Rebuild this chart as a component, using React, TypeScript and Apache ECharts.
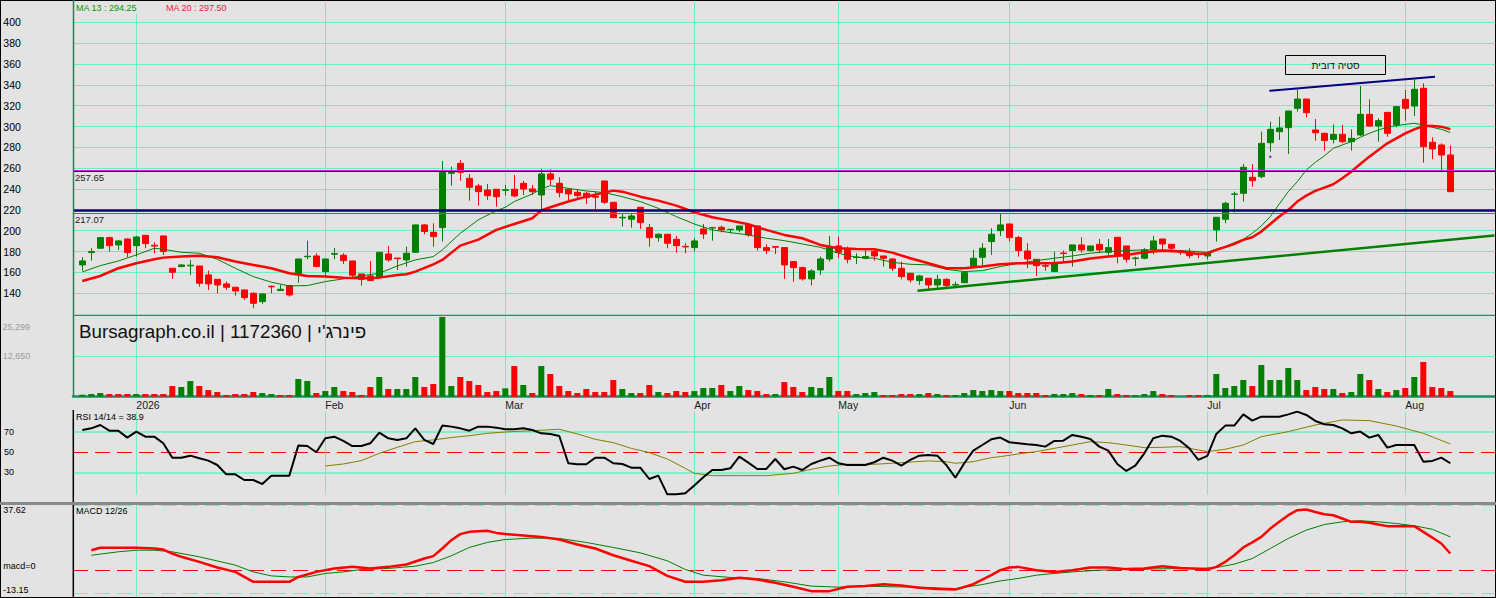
import React, { useEffect, useRef } from "react";
import * as echarts from "echarts";

const FONT = '"Liberation Sans", Arial, sans-serif';
const BG = "#e3e3e3";
const GRID_COLOR = "#66f2c4";
const UP = "#008000";
const DOWN = "#ff0000";

// x domain in trading-day index units (first candle = 0)
const X_MIN = -1.0333;
const X_MAX = 156.9667;

const monthIndex = [6, 27, 47, 68, 84, 103, 125, 147];
const monthLabels = ["2026", "Feb", "Mar", "Apr", "May", "Jun", "Jul", "Aug"];
const priceTicks = [140, 160, 180, 200, 220, 240, 260, 280, 300, 320, 340, 360, 380, 400];
const rsiTicks = [30, 50, 70];
const volumeMax = 25299;
const volumeTickLabels = ["25,299", "12,650"];
const macdTop = 37.62;
const macdBottom = -13.15;
const macdTickLabels = ["37.62", "macd=0", "-13.15"];

const ma13Label = "MA 13 : 294.25";
const ma20Label = "MA 20 : 297.50";
const rsiLabel = "RSI 14/14 = 38.9";
const macdLabel = "MACD 12/26";
const watermark = "Bursagraph.co.il | 1172360 | פינרג'י";
const noteText = "סטיה דובית";

const levelHigh = 257.65;
const levelHighUser = 256.7;
const levelLow = 217.07;
const levelLowUser = 220;

// [open, close, low, high]
const candles = [
  [167.2, 171.0, 161.7, 174.5], [179.0, 180.0, 171.3, 183.2], [183.2, 193.4, 182.6, 194.0], [193.4, 185.7, 180.0, 194.4],
  [186.4, 190.2, 181.6, 191.2], [192.1, 179.0, 174.5, 192.8], [185.7, 194.0, 175.2, 195.0], [195.6, 187.7, 183.2, 195.6],
  [186.0, 185.3, 178.4, 188.9], [195.0, 180.0, 176.8, 195.0], [164.0, 160.1, 153.8, 164.0], [165.6, 167.2, 165.0, 167.5],
  [166.3, 166.9, 157.6, 172.0], [166.2, 149.6, 146.4, 166.2], [157.6, 149.0, 143.2, 161.7], [153.4, 148.0, 140.0, 153.4],
  [149.0, 145.8, 143.2, 151.2], [145.8, 142.2, 137.8, 145.8], [143.2, 135.8, 133.6, 143.2], [140.0, 130.4, 125.6, 141.0],
  [132.0, 139.4, 129.8, 140.0], [146.7, 146.2, 140.0, 147.4], [142.6, 143.8, 142.6, 148.0], [147.4, 138.4, 136.8, 148.0],
  [158.5, 172.9, 150.2, 172.9], [175.0, 175.5, 172.6, 190.5], [175.8, 165.6, 165.6, 178.4], [160.8, 172.9, 156.0, 173.0],
  [177.5, 178.0, 172.6, 183.5], [176.5, 171.3, 168.1, 178.4], [171.0, 157.3, 155.4, 171.0], [158.5, 153.4, 147.4, 158.5],
  [156.6, 152.2, 152.2, 171.0], [155.4, 179.3, 154.4, 179.3], [177.7, 172.0, 170.4, 185.4], [173.8, 173.2, 162.4, 174.0],
  [172.0, 178.4, 165.6, 184.8], [179.3, 205.6, 179.3, 205.6], [205.6, 199.2, 196.6, 206.5], [198.5, 194.4, 184.8, 207.2],
  [203.0, 257.7, 189.6, 267.0], [255.1, 256.7, 243.3, 261.5], [264.7, 256.1, 248.0, 267.9], [250.3, 241.7, 228.9, 254.5],
  [243.0, 237.5, 224.1, 244.9], [239.1, 233.7, 229.5, 244.9], [239.8, 232.7, 223.0, 239.8], [238.8, 239.4, 233.7, 243.9],
  [239.8, 233.4, 232.1, 253.5], [245.5, 240.1, 234.3, 247.8], [240.1, 237.5, 234.3, 243.9], [234.3, 254.5, 220.6, 259.3],
  [254.5, 249.4, 243.9, 259.0], [245.5, 236.6, 232.1, 251.3], [239.8, 235.3, 229.5, 239.8], [236.9, 233.7, 230.2, 239.8],
  [235.9, 231.8, 225.7, 237.5], [232.9, 232.2, 221.0, 237.5], [247.8, 227.3, 225.7, 247.8], [227.3, 212.6, 212.6, 227.3],
  [212.3, 212.9, 204.0, 216.8], [211.0, 214.2, 203.0, 216.8], [222.5, 207.8, 201.7, 222.5], [203.0, 193.4, 184.8, 206.5],
  [193.4, 196.6, 189.6, 197.6], [196.6, 188.0, 183.2, 196.6], [191.8, 185.7, 179.0, 195.0], [185.0, 184.5, 178.4, 188.0],
  [183.8, 190.2, 180.0, 192.8], [201.7, 196.9, 192.1, 206.5], [202.7, 203.0, 190.5, 203.0], [203.3, 200.8, 198.5, 205.0],
  [201.0, 201.4, 197.6, 201.5], [200.8, 204.6, 198.5, 204.6], [205.6, 196.0, 194.4, 206.5], [204.6, 183.8, 181.0, 204.6],
  [183.8, 181.0, 177.7, 187.0], [184.8, 184.2, 177.7, 184.8], [183.8, 167.2, 153.8, 183.8], [170.4, 164.6, 151.2, 170.4],
  [164.6, 153.8, 152.2, 165.6], [153.8, 161.4, 147.4, 163.0], [162.4, 172.9, 157.6, 175.2], [172.9, 184.1, 170.4, 195.0],
  [185.4, 179.3, 173.6, 194.4], [182.2, 172.6, 168.8, 184.8], [174.3, 174.8, 168.1, 178.4], [173.6, 175.2, 172.6, 183.2],
  [180.0, 175.8, 171.3, 183.2], [175.8, 173.6, 165.6, 175.8], [172.9, 164.0, 161.4, 173.6], [164.0, 156.0, 153.4, 170.4],
  [159.2, 152.8, 150.2, 159.2], [152.2, 156.6, 148.0, 157.6], [154.4, 148.0, 143.8, 154.4], [148.0, 153.4, 144.8, 157.6],
  [153.4, 147.4, 145.4, 154.4], [148.0, 148.3, 145.4, 151.2], [150.2, 159.8, 149.6, 160.8], [165.6, 173.6, 164.6, 181.6],
  [174.5, 183.2, 165.6, 188.0], [189.6, 196.6, 176.8, 202.4], [200.1, 205.6, 195.0, 216.1], [206.5, 193.4, 189.6, 206.5],
  [193.4, 181.0, 175.2, 195.0], [180.6, 172.9, 164.0, 188.0], [172.6, 166.5, 156.6, 172.6], [166.5, 166.0, 161.7, 168.8],
  [160.8, 169.7, 160.8, 180.0], [178.6, 178.1, 170.4, 181.0], [181.0, 186.4, 165.6, 186.4], [186.4, 181.6, 179.0, 193.7],
  [181.0, 185.4, 180.0, 185.4], [187.0, 181.6, 178.4, 192.1], [179.3, 183.8, 176.8, 192.1], [193.7, 175.8, 168.8, 193.7],
  [185.4, 172.6, 169.4, 185.4], [173.3, 173.9, 166.2, 175.2], [173.6, 181.6, 172.6, 183.2], [181.6, 190.2, 177.4, 195.0],
  [192.1, 187.3, 181.6, 192.1], [187.0, 183.2, 179.3, 187.0], [180.0, 179.5, 176.8, 181.6], [179.3, 176.1, 173.6, 183.2],
  [177.9, 177.4, 173.6, 179.3], [175.8, 178.4, 172.6, 179.3], [200.8, 212.9, 189.6, 212.9], [211.0, 226.3, 207.2, 227.9],
  [235.0, 235.3, 217.7, 237.5], [235.9, 260.9, 228.0, 264.1], [251.3, 248.1, 242.3, 264.1], [251.9, 283.9, 250.3, 295.1],
  [284.5, 297.3, 275.9, 304.7], [295.1, 298.6, 287.1, 309.5], [298.9, 314.9, 273.7, 314.9], [317.5, 326.4, 314.3, 335.7],
  [326.4, 313.3, 308.9, 326.4], [296.7, 294.1, 286.5, 307.2], [293.5, 286.5, 276.9, 294.1], [287.7, 292.5, 283.9, 302.1],
  [292.5, 285.5, 283.9, 301.5], [285.5, 288.7, 276.9, 297.3], [291.9, 311.7, 290.9, 338.9], [311.7, 300.5, 299.9, 326.1],
  [300.5, 305.6, 285.5, 307.9], [313.6, 293.5, 290.3, 313.6], [301.5, 319.1, 299.3, 319.1], [326.1, 317.5, 305.6, 335.1],
  [319.7, 335.7, 310.1, 345.3], [336.7, 280.7, 265.4, 341.5], [284.9, 278.5, 268.6, 289.7], [282.3, 272.7, 258.3, 283.9],
  [272.7, 237.5, 237.5, 281.7],
];

const volumes = [
  620, 830, 1140, 830, 830, 830, 830, 830, 830, 830,
  3320, 3010, 4870, 3320, 2070, 1450, 520, 830, 830, 1450,
  1140, 830, 520, 520, 5500, 4870, 1140, 1760, 3010, 1760,
  1450, 520, 3010, 6120, 2390, 2390, 2390, 6120, 3010, 3940,
  24790, 3320, 6120, 4870, 3630, 1450, 1760, 2600, 9540, 3630,
  1140, 9540, 7050, 3320, 1760, 1140, 2390, 1450, 1450, 5190,
  2390, 1140, 1140, 3630, 1450, 1140, 1760, 1450, 1760, 2700,
  2700, 3630, 1760, 3320, 2070, 1760, 830, 830, 4560, 3010,
  1450, 3010, 2700, 6120, 1760, 1760, 830, 1140, 1450, 520,
  520, 830, 830, 830, 1140, 830, 520, 520, 1140, 2070,
  1760, 2070, 1760, 1760, 1140, 1140, 1140, 520, 830, 830,
  1140, 830, 520, 520, 2390, 830, 520, 520, 830, 1760,
  830, 520, 0, 520, 520, 520, 7050, 2700, 3320, 5190,
  3320, 9850, 5190, 5190, 8920, 5190, 2070, 3010, 2390, 2390,
  1140, 1450, 7050, 5190, 2390, 1450, 2070, 2700, 6120, 10790,
  3010, 2700, 1760,
];

// 1 = green bar, 0 = red bar
const volumeUp = [
  1, 1, 1, 0, 0, 0, 1, 0, 0, 0,
  0, 1, 1, 0, 0, 0, 0, 0, 0, 0,
  1, 1, 0, 0, 1, 1, 0, 1, 1, 0,
  0, 0, 0, 1, 0, 1, 1, 1, 0, 0,
  1, 1, 0, 0, 0, 0, 0, 1, 0, 1,
  0, 1, 0, 0, 0, 0, 0, 0, 0, 0,
  1, 1, 0, 0, 1, 0, 0, 0, 1, 1,
  1, 0, 1, 1, 0, 0, 0, 1, 0, 0,
  0, 1, 1, 1, 0, 0, 1, 1, 1, 0,
  0, 0, 0, 1, 0, 1, 0, 1, 1, 1,
  1, 1, 1, 0, 0, 0, 0, 0, 1, 1,
  1, 0, 1, 0, 1, 0, 0, 1, 1, 1,
  0, 0, 0, 0, 0, 1, 1, 1, 1, 1,
  0, 1, 1, 1, 1, 1, 0, 0, 0, 1,
  0, 1, 1, 0, 1, 0, 1, 0, 1, 0,
  0, 0, 0,
];

// [day index, value]
const ma13 = [
  [0, 160.5], [2, 166.5], [4, 171], [6, 176.8], [8, 183.2], [9, 182.2], [11, 179.3], [13, 178.4], [15, 172.6],
  [17, 164], [19, 156], [21, 150.6], [23, 147], [25, 147.4], [27, 151.2], [29, 153.8], [31, 156.6], [33, 159.2],
  [35, 166.2], [37, 172], [39, 175.2], [40, 181.6], [42, 197.6], [44, 210.4], [46, 219.3], [47, 222.5], [48, 228],
  [50, 235.3], [51, 240.1], [52, 243.3], [54, 240.7], [56, 238.2], [58, 236.6], [60, 232.7], [62, 228], [64, 221.5],
  [66, 213.6], [68, 206.5], [70, 200.8], [72, 198.2], [74, 196], [76, 192.8], [78, 190.5], [80, 187.3], [82, 184.1],
  [84, 178.4], [86, 174.5], [88, 173.6], [90, 169.7], [92, 167.8], [94, 167.2], [96, 163], [98, 160.8], [100, 161.7],
  [102, 165.6], [104, 168.8], [106, 171.3], [108, 173.6], [110, 175.8], [112, 178.4], [114, 180], [116, 181],
  [118, 181.6], [120, 181.6], [122, 181], [124, 180], [125, 179.3], [126, 182.2], [127, 184.8], [128, 188.6],
  [129, 191.8], [130, 197.6], [131, 204.6], [132, 213.6], [133, 225.7], [134, 237.5], [135, 247.1], [136, 258.3],
  [137, 265.7], [138, 271.8], [139, 279.1], [140, 282.3], [141, 285.5], [142, 289.7], [143, 293.5], [144, 296.7],
  [145, 299.3], [146, 300.9], [147, 302.1], [148, 303.1], [149, 301.5], [150, 299.3], [151, 297.3], [152, 294.25],
];

const ma20 = [
  [0, 151.8], [2, 156.6], [4, 164], [6, 168.8], [8, 172.6], [9, 174.2], [11, 175.2], [13, 176.1], [15, 174.5],
  [17, 170.4], [19, 167.2], [21, 164], [23, 159.2], [25, 156.6], [27, 156], [29, 155], [31, 154.4], [33, 155],
  [35, 157.6], [36, 158.2], [37, 160.8], [39, 167.8], [40, 172], [42, 185.7], [44, 191.5], [46, 200.8], [48, 206.5],
  [50, 212], [51, 219.6], [52, 222.5], [54, 228], [56, 232.7], [58, 236.6], [59, 238.5], [60, 237.5], [62, 232.7],
  [64, 228.9], [66, 224.1], [68, 217.7], [70, 212.9], [72, 209.7], [74, 206.2], [76, 200.8], [78, 196], [80, 192.8],
  [82, 186.4], [84, 183.2], [86, 182.5], [88, 182.2], [90, 179], [92, 173.6], [94, 168.8], [96, 164], [98, 164],
  [100, 165.6], [102, 167.8], [104, 168.8], [106, 168.8], [108, 168.8], [110, 170.4], [112, 173.3], [114, 175.2],
  [116, 176.8], [118, 179.3], [120, 180.9], [122, 180], [124, 177.7], [125, 178.4], [126, 181.6], [128, 187.3],
  [129, 191.2], [130, 193.7], [131, 199.2], [132, 206.5], [133, 213.6], [134, 219.9], [135, 228], [136, 233.7],
  [137, 238.2], [138, 241.4], [139, 244.6], [140, 250.3], [141, 256.7], [142, 264.1], [143, 271.1], [144, 277.5],
  [145, 283.9], [146, 288.7], [147, 293.5], [148, 297.3], [149, 300.5], [150, 300.5], [151, 299.9], [152, 297.5],
];

const supportLine = [[92.8, 142.5], [156.9, 195.5]];
const resistanceLine = [[131.9, 334.4], [150.3, 347.8]];
const navyDot = [[132, 271]];

const rsi = [
  71.7, 73.3, 76.6, 71, 71, 64.2, 70.1, 65.1, 65.1, 58.6,
  44.4, 44.4, 46.4, 43.8, 41.5, 37.2, 28, 28, 22.4, 22.4,
  18.5, 26.7, 26.7, 26.7, 56.3, 55.9, 49.7, 63.5, 65.1, 60.9,
  55.9, 55.9, 58.6, 69.1, 63.5, 61.9, 63.5, 73.3, 61.9, 57.9,
  76, 75, 73.3, 71, 75, 75, 74, 72.4, 72.4, 73.3,
  71.7, 68.4, 67.8, 65.8, 38.9, 37.9, 37.9, 44.4, 44.4, 38.9,
  38.2, 34.6, 34.6, 23.4, 26.7, 8.3, 8.3, 9.3, 16.9, 25.1,
  32.3, 32.3, 33.9, 45.4, 39.5, 33.3, 33.3, 43.1, 33, 35.6,
  32.3, 38.2, 41.5, 44.4, 38.9, 37.2, 37.2, 37.2, 39.9, 44.4,
  41.5, 36.6, 42.2, 46.4, 47.1, 46.4, 37.2, 24.7, 38.9, 51.3,
  56.9, 62.5, 64.2, 59.6, 58.6, 57.6, 56.9, 55.3, 60.9, 61.2,
  66.8, 65.1, 62.8, 55.3, 51.3, 38.2, 31.3, 36.6, 48.7, 63.5,
  66.1, 65.1, 60.9, 53.6, 42.2, 46.1, 67.8, 76, 76, 87.1,
  80.9, 84.8, 84.8, 84.8, 87.1, 89.8, 86.5, 80.6, 77.3, 76.6,
  73.3, 68.4, 70.1, 64.2, 66.8, 54.3, 56.9, 56.9, 56.9, 40.5,
  41.2, 44.4, 38.9,
];

const rsiSignal = [
  [27, 36.2], [29, 38.2], [31, 41.5], [33, 48.7], [35, 54.6], [37, 60.2], [39, 61.9], [41, 64.2], [43, 66.1],
  [45, 68.4], [47, 69.7], [50, 71], [53, 72.4], [55, 67.8], [57, 62.5], [59, 59.2], [61, 53.6], [63, 49.4],
  [65, 43.1], [67, 33.9], [68, 29], [70, 26.7], [73, 26.7], [76, 26.7], [79, 29], [81, 33], [83, 36.2], [85, 37.9],
  [88, 37.9], [91, 39.5], [94, 41.2], [96, 40.5], [97, 38.9], [99, 40.5], [101, 44.4], [102, 45.4], [104, 48.1],
  [106, 50.4], [108, 53.6], [110, 56.9], [112, 60.2], [114, 59.2], [116, 56.9], [118, 54.3], [120, 54.6],
  [122, 55.3], [124, 52], [125, 50.4], [127, 52.7], [129, 56.9], [131, 65.1], [134, 70.1], [137, 76.6], [140, 81.6],
  [143, 80.9], [146, 75.6], [149, 68.4], [152, 57.9],
];

const macd = [
  [1, 11.7], [2, 13.1], [4, 13.1], [6, 13.1], [8, 12.7], [9, 12.1], [10, 9.8], [11, 7.9], [13, 5], [15, 1.7],
  [17, -0.8], [18, -3.7], [19, -6.5], [21, -6.5], [23, -6.5], [24, -3.7], [26, -0.8], [28, 1.2], [30, 2.1],
  [32, 1.2], [34, 2.1], [36, 3.5], [38, 6.9], [39, 8.3], [40, 12.7], [41, 17.5], [42, 21], [43, 22.3], [45, 22.9],
  [46, 21.7], [47, 21], [49, 20.2], [51, 19.4], [53, 17.9], [55, 15], [57, 12.7], [59, 8.8], [61, 5.6], [63, 2.5],
  [65, -3.1], [67, -6.5], [69, -6.5], [71, -5.6], [73, -4.2], [75, -5.2], [77, -7.1], [79, -9.4], [81, -11.9],
  [83, -11.9], [85, -9.4], [87, -9], [89, -7.9], [91, -8.7], [93, -10], [95, -10.6], [97, -11], [99, -7.9],
  [101, -2.7], [102, 0.2], [103, 1.7], [104, 2.1], [106, 0.2], [108, -0.8], [110, 0.2], [112, 1.7], [114, 1.7],
  [116, 0.8], [118, 1.2], [120, 2.5], [122, 1.5], [124, 1], [125, 0.6], [126, 2.1], [127, 5], [128, 8.8],
  [129, 13.3], [130, 16.2], [131, 19.4], [132, 24.2], [133, 28.1], [134, 31.9], [135, 34.8], [136, 35.2],
  [137, 33.8], [138, 32.5], [139, 31.9], [140, 30], [141, 28.1], [142, 28.1], [143, 27.5], [144, 26.5],
  [145, 25.6], [146, 25.6], [147, 25.6], [148, 25.6], [149, 22.3], [150, 19], [151, 15.6], [152, 9.8],
];

const macdSignal = [
  [1, 8.8], [4, 10.8], [6, 11.7], [8, 11.7], [10, 10.8], [13, 7.9], [17, 3.1], [19, -0.8], [21, -3.1], [23, -3.7],
  [25, -3.7], [27, -1.7], [29, -0.8], [31, 0.6], [34, 1.2], [37, 2.5], [39, 4.6], [41, 8.5], [43, 13.3], [45, 16.2],
  [47, 17.9], [50, 18.7], [53, 18.5], [56, 16.2], [59, 13.3], [62, 10.2], [65, 5.6], [67, 0.6], [69, -2.7],
  [72, -4], [75, -4.6], [78, -6.5], [81, -9], [84, -9.6], [87, -9], [90, -9.4], [93, -9.6], [97, -10.4],
  [100, -8.1], [102, -6], [104, -4.6], [106, -2.7], [108, -1.7], [110, -0.8], [113, 0.2], [116, 0.6], [120, 1],
  [124, 1.2], [126, 1.7], [128, 3.7], [130, 6.9], [132, 12.7], [134, 18.5], [136, 23.3], [138, 26.5], [140, 28.1],
  [142, 28.7], [144, 28.1], [146, 27.1], [148, 25.8], [150, 23.8], [152, 19.4],
];

function buildOption(): any {
  const noLabel = { show: false };
  const gridLineStyle = { color: GRID_COLOR, width: 1, type: "solid" };
  const markBase = { silent: true, symbol: "none", animation: false, emphasis: { disabled: true } };
  const monthLines = monthIndex.map((i) => ({ xAxis: i }));

  const xAxisHidden = (gridIndex: number) => ({
    type: "value", gridIndex, min: X_MIN, max: X_MAX, show: false,
  });

  const line = (name: string, xi: number, data: any[], color: string, width: number, z = 3) => ({
    name, type: "line", xAxisIndex: xi, yAxisIndex: xi, data, symbol: "none", showSymbol: false,
    lineStyle: { color, width }, itemStyle: { color }, z, silent: true, animation: false,
  });

  const text = (t: string, x: number, y: number, size: number, color: string, align = "left") => ({
    type: "text", z: 100, silent: true, x, y,
    style: {
      text: t, fill: color, font: `${size}px ${FONT}`,
      textAlign: align, textVerticalAlign: "middle", align, verticalAlign: "middle",
    },
  });
  const seg = (x1: number, y1: number, x2: number, y2: number, color: string, w: number) => ({
    type: "line", z: 100, silent: true, shape: { x1, y1, x2, y2 }, style: { stroke: color, lineWidth: w },
  });

  return {
    animation: false,
    backgroundColor: BG,
    textStyle: { fontFamily: FONT },
    grid: [
      { left: 73, width: 1422, top: 1.5, height: 312.6 },
      { left: 73, width: 1422, top: 315.3, height: 81.4 },
      { left: 73, width: 1422, top: 411.4, height: 91.35 },
      { left: 73, width: 1422, top: 505.3, height: 92.7 },
    ],
    xAxis: [
      xAxisHidden(0),
      {
        type: "value", gridIndex: 1, min: X_MIN, max: X_MAX, show: true,
        axisLine: { show: true, onZero: false, lineStyle: { color: "#1f8f6f", width: 2.5 } },
        axisTick: { show: false },
        splitLine: { show: false },
        axisLabel: {
          show: true,
          customValues: monthIndex,
          formatter: (v: number) => {
            const k = monthIndex.indexOf(Math.round(v));
            return k >= 0 && Math.abs(v - monthIndex[k]) < 0.01 ? monthLabels[k] : "";
          },
          align: "left", margin: 3, fontSize: 10.5, fontFamily: FONT, color: "#1a1a1a",
        },
      },
      xAxisHidden(2),
      xAxisHidden(3),
    ],
    yAxis: [
      {
        type: "value", gridIndex: 0, min: 120, max: 420, interval: 20,
        axisLine: { show: false }, axisTick: { show: false }, splitLine: { show: false },
        axisLabel: {
          align: "left", margin: 69.7, fontSize: 10.5, fontFamily: FONT, color: "#000",
          formatter: (v: number) => (priceTicks.indexOf(v) >= 0 ? String(v) : ""),
        },
      },
      {
        type: "value", gridIndex: 1, min: 0, max: volumeMax, interval: volumeMax / 2,
        axisLine: { show: false }, axisTick: { show: false }, axisLabel: { show: false },
        splitLine: { show: true, lineStyle: { color: GRID_COLOR, width: 1 } },
      },
      {
        type: "value", gridIndex: 2, min: 0, max: 90, interval: 10,
        axisLine: { show: false }, axisTick: { show: false }, splitLine: { show: false },
        axisLabel: {
          align: "left", margin: 69, fontSize: 9, fontFamily: FONT, color: "#000",
          formatter: (v: number) => (rsiTicks.indexOf(v) >= 0 ? String(v) : ""),
        },
      },
      { type: "value", gridIndex: 3, min: -15.86, max: 37.62, show: false },
    ],
    series: [
      // ---- price panel
      {
        name: "priceGrid", type: "line", xAxisIndex: 0, yAxisIndex: 0, data: [], z: 1,
        markLine: {
          ...markBase, z: 1, label: noLabel, lineStyle: gridLineStyle,
          data: [...priceTicks.map((v) => ({ yAxis: v })), ...monthLines],
        },
      },
      {
        name: "price", type: "candlestick", xAxisIndex: 0, yAxisIndex: 0,
        data: candles.map((c, i) => [i, c[0], c[1], c[2], c[3]]),
        barWidth: 6,
        itemStyle: { color: UP, color0: DOWN, borderColor: UP, borderColor0: DOWN, borderWidth: 1 },
        z: 2, silent: true, animation: false,
      },
      {
        name: "levels", type: "line", xAxisIndex: 0, yAxisIndex: 0, data: [], z: 4,
        markLine: {
          ...markBase, z: 6,
          data: [
            {
              yAxis: levelHigh, lineStyle: { color: "#ff00ff", width: 1, type: "solid" },
              label: { show: true, formatter: String(levelHigh), position: "insideStartBottom", distance: [2, 2], color: "#222", fontSize: 9.5, fontFamily: FONT },
            },
            { yAxis: levelHighUser, lineStyle: { color: "#000000", width: 1, type: "solid" }, label: noLabel },
            { yAxis: levelLowUser, lineStyle: { color: "#000080", width: 2.5, type: "solid" }, label: noLabel },
            {
              yAxis: levelLow, lineStyle: { color: "#ff00ff", width: 1, type: "solid" },
              label: { show: true, formatter: String(levelLow), position: "insideStartBottom", distance: [2, 2], color: "#222", fontSize: 9.5, fontFamily: FONT },
            },
          ],
        },
      },
      line("MA13", 0, ma13, UP, 1, 3),
      line("MA20", 0, ma20, DOWN, 2.5, 3),
      line("support", 0, supportLine, UP, 2.5, 3),
      line("resistance", 0, resistanceLine, "#000080", 2, 3),
      {
        name: "dot", type: "scatter", xAxisIndex: 0, yAxisIndex: 0, data: navyDot,
        symbol: "rect", symbolSize: 2, itemStyle: { color: "#000080" }, silent: true, z: 3,
      },
      // ---- volume panel
      {
        name: "volGrid", type: "line", xAxisIndex: 1, yAxisIndex: 1, data: [], z: 1,
        markLine: { ...markBase, z: 1, label: noLabel, lineStyle: gridLineStyle, data: monthLines },
      },
      {
        name: "volume", type: "bar", xAxisIndex: 1, yAxisIndex: 1, barWidth: 6,
        data: volumes.map((v, i) => ({ value: [i, v], itemStyle: { color: volumeUp[i] ? UP : DOWN } })),
        z: 2, silent: true, animation: false,
      },
      // ---- RSI panel
      {
        name: "rsiGrid", type: "line", xAxisIndex: 2, yAxisIndex: 2, data: [], z: 1,
        markLine: {
          ...markBase, z: 1, label: noLabel, lineStyle: gridLineStyle,
          data: [
            { yAxis: 70, lineStyle: { color: GRID_COLOR, width: 1.5, type: "solid" } },
            { yAxis: 30, lineStyle: { color: GRID_COLOR, width: 1.5, type: "solid" } },
            { yAxis: 50, lineStyle: { color: "#ff0000", width: 1, type: [15, 7] } },
            ...monthIndex.map((i) => [{ coord: [i, 8] }, { coord: [i, 89.5] }]),
          ],
        },
      },
      line("RSI", 2, rsi.map((v, i) => [i, v]), "#000000", 2, 3),
      line("RSIsignal", 2, rsiSignal, "#808000", 1, 2),
      // ---- MACD panel
      {
        name: "macdGrid", type: "line", xAxisIndex: 3, yAxisIndex: 3, data: [], z: 1,
        markLine: {
          ...markBase, z: 1, label: noLabel, lineStyle: gridLineStyle,
          data: [
            { yAxis: macdTop, lineStyle: { color: GRID_COLOR, width: 1, type: [15, 7] } },
            { yAxis: macdBottom, lineStyle: { color: GRID_COLOR, width: 1, type: [15, 7] } },
            { yAxis: 0, lineStyle: { color: "#ff0000", width: 1, type: [15, 7] } },
            ...monthLines,
          ],
        },
      },
      line("MACD", 3, macd, DOWN, 2.5, 3),
      line("MACDsignal", 3, macdSignal, UP, 1, 2),
    ],
    graphic: {
      elements: [
        { type: "rect", z: 99, silent: true, shape: { x: 74.5, y: 1, width: 67, height: 13 }, style: { fill: BG } },
        text(ma13Label, 76, 7.5, 9, "#009a00"),
        text(ma20Label, 166, 7.5, 9, "#ff1040"),
        text(watermark, 79, 331, 18.8, "#111111"),
        { type: "rect", z: 100, silent: true, shape: { x: 1285.5, y: 55.5, width: 100, height: 19 }, style: { fill: "rgba(0,0,0,0)", stroke: "#000", lineWidth: 1 } },
        text(noteText, 1335.5, 65, 10, "#111111", "center"),
        text(rsiLabel, 76, 417, 9, "#000000"),
        text(macdLabel, 76, 510.7, 9, "#000000"),
        text(volumeTickLabels[0], 2.5, 327.3, 9, "#9c9c9c"),
        text(volumeTickLabels[1], 2.7, 356.3, 9, "#9c9c9c"),
        text(macdTickLabels[0], 3.3, 510.3, 9, "#000000"),
        text(macdTickLabels[1], 3.3, 565.7, 9, "#000000"),
        text(macdTickLabels[2], 3, 590, 9, "#000000"),
        // frames
        seg(0, 0.5, 1496, 0.5, "#000", 1),
        seg(0.5, 0, 0.5, 598, "#000", 1),
        seg(1495.5, 0, 1495.5, 598, "#000", 1),
        seg(0, 597.5, 1496, 597.5, "#000", 1),
        seg(73.5, 0, 73.5, 397, "#2e7d5b", 1.5),
        seg(73, 315.3, 1495, 315.3, "#2e8b6a", 1.2),
        seg(73.3, 410, 73.3, 503, "#000", 1.5),
        seg(0, 503.5, 1496, 503.5, "#8a8a8a", 3),
        seg(73.3, 505, 73.3, 598, "#000", 1.5),
      ],
    },
  };
}

export default function App() {
  const ref = useRef<HTMLDivElement>(null);
  useEffect(() => {
    if (!ref.current) return;
    const chart = echarts.init(ref.current, null, { renderer: "svg", width: 1496, height: 598 });
    chart.setOption(buildOption());
    return () => chart.dispose();
  }, []);
  return (
    <div
      ref={ref}
      style={{ position: "fixed", left: 0, top: 0, width: 1496, height: 598, background: BG }}
    />
  );
}
